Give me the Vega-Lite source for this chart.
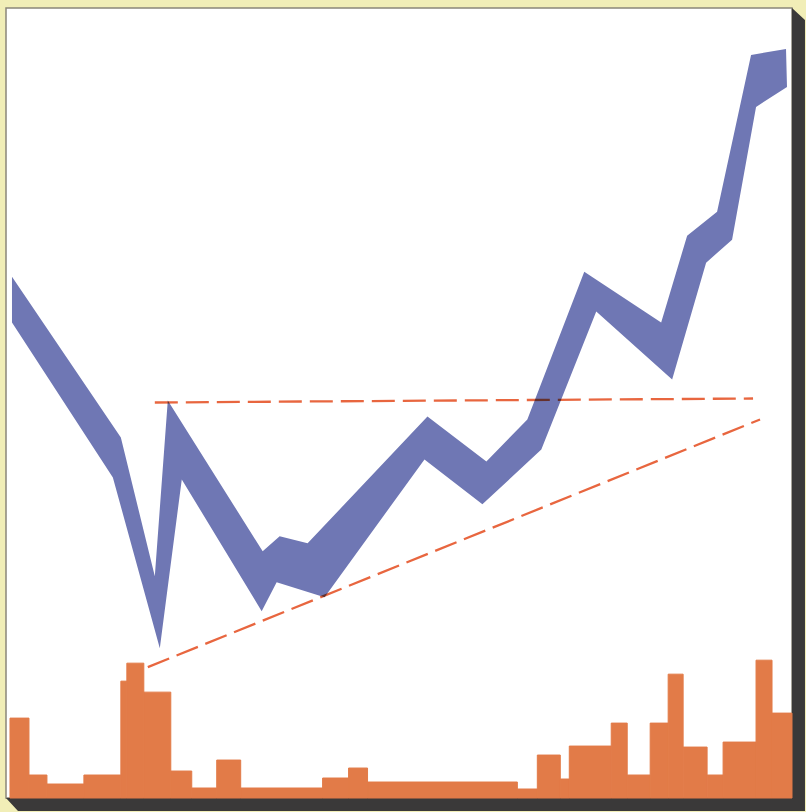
{
  "$schema": "https://vega.github.io/schema/vega-lite/v6.json",
  "autosize": {"type": "fit", "contains": "padding"},
  "width": 806,
  "height": 812,
  "padding": {"left": 6, "top": 8, "right": 0, "bottom": 0},
  "background": "#f1eeb7",
  "view": {"fill": "#ffffff", "stroke": "#8a877a", "strokeWidth": 1.5},
  "datasets": {
    "shadow": [
      {"i": 0, "x": 787, "y": 791},
      {"i": 1, "x": 800, "y": 779},
      {"i": 2, "x": 800, "y": -13},
      {"i": 3, "x": 12, "y": -13},
      {"i": 4, "x": 0, "y": 0},
      {"i": 5, "x": 787, "y": 0}
    ],
    "bars": [
      {"x0": 4, "x1": 23, "h": 80},
      {"x0": 23, "x1": 41, "h": 23},
      {"x0": 41, "x1": 78, "h": 14},
      {"x0": 78, "x1": 115, "h": 23},
      {"x0": 115, "x1": 121, "h": 117},
      {"x0": 121, "x1": 138, "h": 135},
      {"x0": 138, "x1": 165, "h": 106},
      {"x0": 165, "x1": 186, "h": 27},
      {"x0": 186, "x1": 211, "h": 10},
      {"x0": 211, "x1": 235, "h": 38},
      {"x0": 235, "x1": 317, "h": 10},
      {"x0": 317, "x1": 343, "h": 20},
      {"x0": 343, "x1": 362, "h": 30},
      {"x0": 362, "x1": 512, "h": 16},
      {"x0": 512, "x1": 532, "h": 9},
      {"x0": 532, "x1": 555, "h": 43},
      {"x0": 555, "x1": 564, "h": 19},
      {"x0": 564, "x1": 606, "h": 52},
      {"x0": 606, "x1": 622, "h": 75},
      {"x0": 622, "x1": 645, "h": 23},
      {"x0": 645, "x1": 663, "h": 75},
      {"x0": 663, "x1": 678, "h": 124},
      {"x0": 678, "x1": 702, "h": 51},
      {"x0": 702, "x1": 718, "h": 23},
      {"x0": 718, "x1": 751, "h": 56},
      {"x0": 751, "x1": 767, "h": 138},
      {"x0": 767, "x1": 787, "h": 85}
    ],
    "band": [
      {"i": 1, "x": 6, "y": 522},
      {"i": 2, "x": 115, "y": 361},
      {"i": 3, "x": 149, "y": 222},
      {"i": 4, "x": 162, "y": 398},
      {"i": 5, "x": 257, "y": 247},
      {"i": 6, "x": 274, "y": 262},
      {"i": 7, "x": 302, "y": 255},
      {"i": 8, "x": 422, "y": 382},
      {"i": 9, "x": 481, "y": 337},
      {"i": 10, "x": 522, "y": 379},
      {"i": 11, "x": 579, "y": 527},
      {"i": 12, "x": 656, "y": 476},
      {"i": 13, "x": 682, "y": 563},
      {"i": 14, "x": 712, "y": 587},
      {"i": 15, "x": 746, "y": 744},
      {"i": 16, "x": 781, "y": 750},
      {"i": 17, "x": 782, "y": 712},
      {"i": 18, "x": 751, "y": 692},
      {"i": 19, "x": 727, "y": 559},
      {"i": 20, "x": 701, "y": 536},
      {"i": 21, "x": 667, "y": 419},
      {"i": 22, "x": 591, "y": 487},
      {"i": 23, "x": 536, "y": 349},
      {"i": 24, "x": 477, "y": 294},
      {"i": 25, "x": 419, "y": 339},
      {"i": 26, "x": 319, "y": 201},
      {"i": 27, "x": 271, "y": 216},
      {"i": 28, "x": 256, "y": 187},
      {"i": 29, "x": 176, "y": 319},
      {"i": 30, "x": 154, "y": 150},
      {"i": 31, "x": 107, "y": 321},
      {"i": 32, "x": 6, "y": 476}
    ],
    "trend": [
      {"x0": 149, "y0": 396, "x1": 748, "y1": 400},
      {"x0": 142, "y0": 131, "x1": 755, "y1": 379}
    ]
  },
  "layer": [
    {
      "data": {"name": "shadow"},
      "mark": {"type": "line", "filled": true, "interpolate": "linear-closed", "color": "#3a3939", "strokeWidth": 0},
      "encoding": {
        "x": {"field": "x", "type": "quantitative", "axis": null, "scale": {"domain": [0, 787], "nice": false, "zero": false}},
        "y": {"field": "y", "type": "quantitative", "axis": null, "scale": {"domain": [0, 791], "nice": false, "zero": false}},
        "order": {"field": "i", "type": "quantitative"}
      }
    },
    {
      "data": {"name": "bars"},
      "mark": {"type": "rect", "color": "#e27b48", "stroke": "#e27b48", "strokeWidth": 1},
      "encoding": {
        "x": {"field": "x0", "type": "quantitative", "axis": null},
        "x2": {"field": "x1"},
        "y": {"field": "h", "type": "quantitative", "axis": null},
        "y2": {"datum": 0}
      }
    },
    {
      "data": {"name": "band"},
      "mark": {"type": "line", "filled": true, "interpolate": "linear-closed", "color": "#6f77b4", "strokeWidth": 0},
      "encoding": {
        "x": {"field": "x", "type": "quantitative", "axis": null},
        "y": {"field": "y", "type": "quantitative", "axis": null},
        "order": {"field": "i", "type": "quantitative"}
      }
    },
    {
      "data": {"name": "trend"},
      "mark": {"type": "rule", "color": "#e8663f", "strokeWidth": 2.3, "strokeDash": [23, 8], "blend": "multiply"},
      "encoding": {
        "x": {"field": "x0", "type": "quantitative", "axis": null},
        "y": {"field": "y0", "type": "quantitative", "axis": null},
        "x2": {"field": "x1"},
        "y2": {"field": "y1"}
      }
    }
  ]
}
